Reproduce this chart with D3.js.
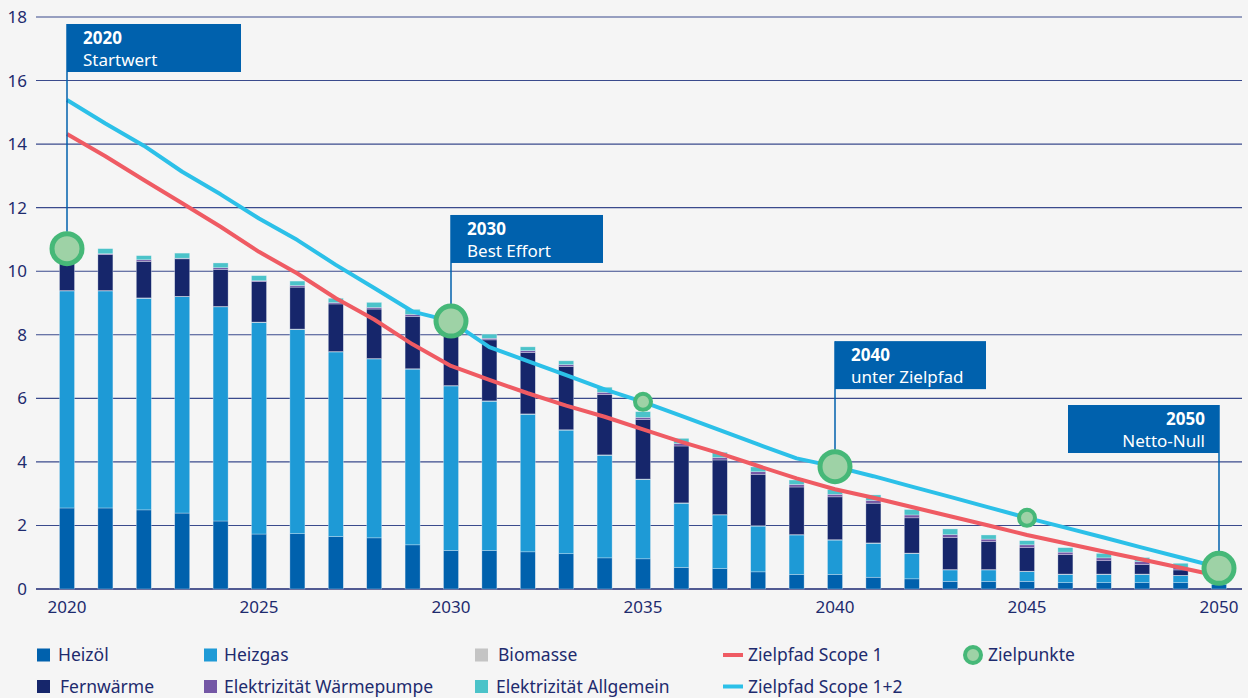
<!DOCTYPE html>
<html><head><meta charset="utf-8">
<script src="https://cdn.jsdelivr.net/npm/d3@7/dist/d3.min.js"></script>
<style>
html,body{margin:0;padding:0;background:#f5f5f5;}
svg{display:block;font-family:"Noto Sans",sans-serif;}
</style></head>
<body>
<svg id="chart" width="1248" height="698"></svg>
<script>
const years = [2020,2021,2022,2023,2024,2025,2026,2027,2028,2029,2030,2031,2032,2033,2034,2035,2036,2037,2038,2039,2040,2041,2042,2043,2044,2045,2046,2047,2048,2049,2050];
const heizoel = [2.55,2.55,2.49,2.39,2.14,1.73,1.74,1.65,1.61,1.39,1.21,1.21,1.17,1.11,0.98,0.95,0.68,0.64,0.54,0.46,0.46,0.37,0.32,0.24,0.24,0.24,0.20,0.20,0.20,0.20,0.15];
const heizgas = [6.83,6.83,6.66,6.81,6.74,6.66,6.43,5.81,5.63,5.53,5.18,4.70,4.33,3.89,3.23,2.50,2.02,1.69,1.44,1.24,1.08,1.07,0.80,0.36,0.36,0.31,0.26,0.26,0.26,0.22,0.20];
const biomasse = [0.01,0.01,0.01,0.01,0.01,0.01,0.01,0.01,0.01,0.01,0.01,0.01,0.01,0.01,0.01,0.01,0.01,0.01,0.01,0.01,0.01,0.01,0.01,0.01,0.01,0.01,0.01,0.01,0.01,0.01,0.01];
const fernwaerme = [1.11,1.13,1.15,1.18,1.17,1.27,1.32,1.50,1.56,1.65,1.72,1.92,1.93,1.99,1.90,1.87,1.79,1.72,1.62,1.50,1.35,1.25,1.11,1.01,0.88,0.74,0.61,0.42,0.30,0.17,0.12];
const waermepumpe = [0.03,0.03,0.05,0.02,0.05,0.03,0.05,0.04,0.05,0.06,0.05,0.05,0.06,0.06,0.07,0.07,0.08,0.08,0.08,0.08,0.08,0.09,0.09,0.09,0.08,0.09,0.08,0.09,0.09,0.07,0.05];
const allgemein = [0.18,0.16,0.13,0.16,0.15,0.16,0.14,0.14,0.16,0.16,0.13,0.13,0.12,0.12,0.16,0.18,0.16,0.16,0.15,0.14,0.15,0.17,0.17,0.18,0.13,0.13,0.14,0.14,0.13,0.14,0.09];
const scope1 = [14.32,13.62,12.87,12.14,11.40,10.61,9.93,9.15,8.48,7.70,7.02,6.58,6.16,5.77,5.42,5.02,4.63,4.27,3.87,3.48,3.14,2.87,2.58,2.29,2.00,1.70,1.44,1.18,0.93,0.67,0.41];
const scope12 = [15.39,14.65,13.95,13.13,12.42,11.66,10.98,10.20,9.47,8.73,8.43,7.61,7.17,6.73,6.28,5.89,5.45,5.00,4.55,4.11,3.85,3.55,3.22,2.90,2.57,2.24,1.93,1.62,1.30,0.99,0.68];
const zielYears = [2020,2030,2035,2040,2045,2050];
const zielValues = [10.71,8.43,5.89,3.85,2.24,0.65];
const zielBig = [true,true,false,true,false,true];
const annYears = [2020,2030,2040,2050];
const annTitles = ["2020","2030","2040","2050"];
const annSubs = ["Startwert","Best Effort","unter Zielpfad","Netto-Null"];
const annTop = [17.78,11.77,7.80,5.79];
const annSide = ["right","right","right","left"];
const yTicks = [0,2,4,6,8,10,12,14,16,18];
const xTicks = [2020,2025,2030,2035,2040,2045,2050];
const seriesNames = ["Heizöl","Heizgas","Biomasse","Fernwärme","Elektrizität Wärmepumpe","Elektrizität Allgemein"];
const seriesColors = ["#0061ad","#1e9ad6","#c4c4c4","#16266b","#7457a5","#4bc3c9"];

const svg = d3.select("#chart");
const navy = "#1e2b6e";
const x = d3.scaleLinear().domain([2020,2050]).range([67,1219]);
const y = d3.scaleLinear().domain([0,18]).range([589,17]);
const barW = 15;

// gridlines
svg.append("g").selectAll("line").data(yTicks).join("line")
  .attr("x1",36).attr("x2",1242)
  .attr("y1",d=>y(d)).attr("y2",d=>y(d))
  .attr("stroke",d=>d===0?"#1a2670":"#3a4a8c").attr("stroke-width",d=>d===0?1.6:1.1);

// y labels
svg.append("g").selectAll("text").data(yTicks).join("text")
  .attr("x",27).attr("y",d=>y(d)+6).attr("text-anchor","end")
  .attr("font-size",17).attr("fill",navy).text(d=>d);
// x labels
svg.append("g").selectAll("text").data(xTicks).join("text")
  .attr("x",d=>x(d)).attr("y",613).attr("text-anchor","middle")
  .attr("font-size",17).attr("fill",navy).text(d=>d);

// stacked bars
const table = years.map((yr,i)=>({year:yr, s0:heizoel[i], s1:heizgas[i], s2:biomasse[i], s3:fernwaerme[i], s4:waermepumpe[i], s5:allgemein[i]}));
const stack = d3.stack().keys(["s0","s1","s2","s3","s4","s5"])(table);
svg.append("g").selectAll("g").data(stack).join("g")
  .attr("fill",(d,i)=>seriesColors[i])
  .selectAll("rect").data(d=>d).join("rect")
  .attr("x",d=>x(d.data.year)-barW/2).attr("width",barW)
  .attr("y",d=>y(d[1])).attr("height",d=>Math.max(0,y(d[0])-y(d[1])))
  .attr("stroke","rgba(235,240,248,0.55)").attr("stroke-width",0.6);

// lines
const line = d3.line().x((d,i)=>x(years[i])).y(d=>y(d));
svg.append("path").datum(scope1).attr("d",line).attr("fill","none")
  .attr("stroke","#ef5b63").attr("stroke-width",4).attr("stroke-linejoin","round");
svg.append("path").datum(scope12).attr("d",line).attr("fill","none")
  .attr("stroke","#2cc0e8").attr("stroke-width",4).attr("stroke-linejoin","round");

// annotation connectors and boxes
const boxH = 48;
const boxW = [174,152,151,151];
annYears.forEach((yr,i)=>{
  const zi = zielYears.indexOf(yr);
  const cy = y(zielValues[zi]) - 17;
  const ax = x(yr);
  svg.append("line").attr("x1",ax).attr("x2",ax).attr("y1",y(annTop[i])).attr("y2",cy)
    .attr("stroke","#0061ad").attr("stroke-width",1.5);
  const bx = annSide[i]==="right" ? ax : ax - boxW[i];
  svg.append("rect").attr("x",bx).attr("y",y(annTop[i])).attr("width",boxW[i]).attr("height",boxH).attr("fill","#0061ad");
  const tx = annSide[i]==="right" ? bx+16 : ax-14;
  const anchor = annSide[i]==="right" ? "start" : "end";
  svg.append("text").attr("x",tx).attr("y",y(annTop[i])+20).attr("text-anchor",anchor)
    .attr("font-size",17).attr("font-weight","bold").attr("fill","#fff").text(annTitles[i]);
  svg.append("text").attr("x",tx).attr("y",y(annTop[i])+42).attr("text-anchor",anchor)
    .attr("font-size",17).attr("fill","#fff").text(annSubs[i]);
});

// target points
svg.append("g").selectAll("circle").data(zielYears).join("circle")
  .attr("cx",d=>x(d)).attr("cy",(d,i)=>y(zielValues[i]))
  .attr("r",(d,i)=>zielBig[i]?15:8)
  .attr("fill","#9ed2a6").attr("stroke","#46b878").attr("stroke-width",(d,i)=>zielBig[i]?5:4);

// legend
const legItems = [
  {t:"Heizöl",c:seriesColors[0],type:"rect",lx:37,tx:58,row:0},
  {t:"Heizgas",c:seriesColors[1],type:"rect",lx:204,tx:224,row:0},
  {t:"Biomasse",c:seriesColors[2],type:"rect",lx:475,tx:498,row:0},
  {t:"Zielpfad Scope 1",c:"#ef5b63",type:"line",lx:723,tx:748,row:0},
  {t:"Zielpunkte",c:"#46b878",type:"circle",lx:973,tx:988,row:0},
  {t:"Fernwärme",c:seriesColors[3],type:"rect",lx:37,tx:60,row:1},
  {t:"Elektrizität Wärmepumpe",c:seriesColors[4],type:"rect",lx:204,tx:224,row:1},
  {t:"Elektrizität Allgemein",c:seriesColors[5],type:"rect",lx:475,tx:496,row:1},
  {t:"Zielpfad Scope 1+2",c:"#2cc0e8",type:"line",lx:723,tx:748,row:1}
];
const rowY = [655,686.5];
const lg = svg.append("g");
legItems.forEach(it=>{
  const cy = rowY[it.row];
  if(it.type==="rect"){
    lg.append("rect").attr("x",it.lx).attr("y",cy-6.5).attr("width",13).attr("height",13).attr("fill",it.c);
  } else if(it.type==="line"){
    lg.append("line").attr("x1",it.lx).attr("x2",it.lx+20).attr("y1",cy).attr("y2",cy)
      .attr("stroke",it.c).attr("stroke-width",4);
  } else {
    lg.append("circle").attr("cx",it.lx).attr("cy",cy).attr("r",8).attr("fill","#9ed2a6")
      .attr("stroke","#46b878").attr("stroke-width",4);
  }
  lg.append("text").attr("x",it.tx).attr("y",cy+6).attr("font-size",17.5).attr("fill",navy).text(it.t);
});
</script>
</body></html>
